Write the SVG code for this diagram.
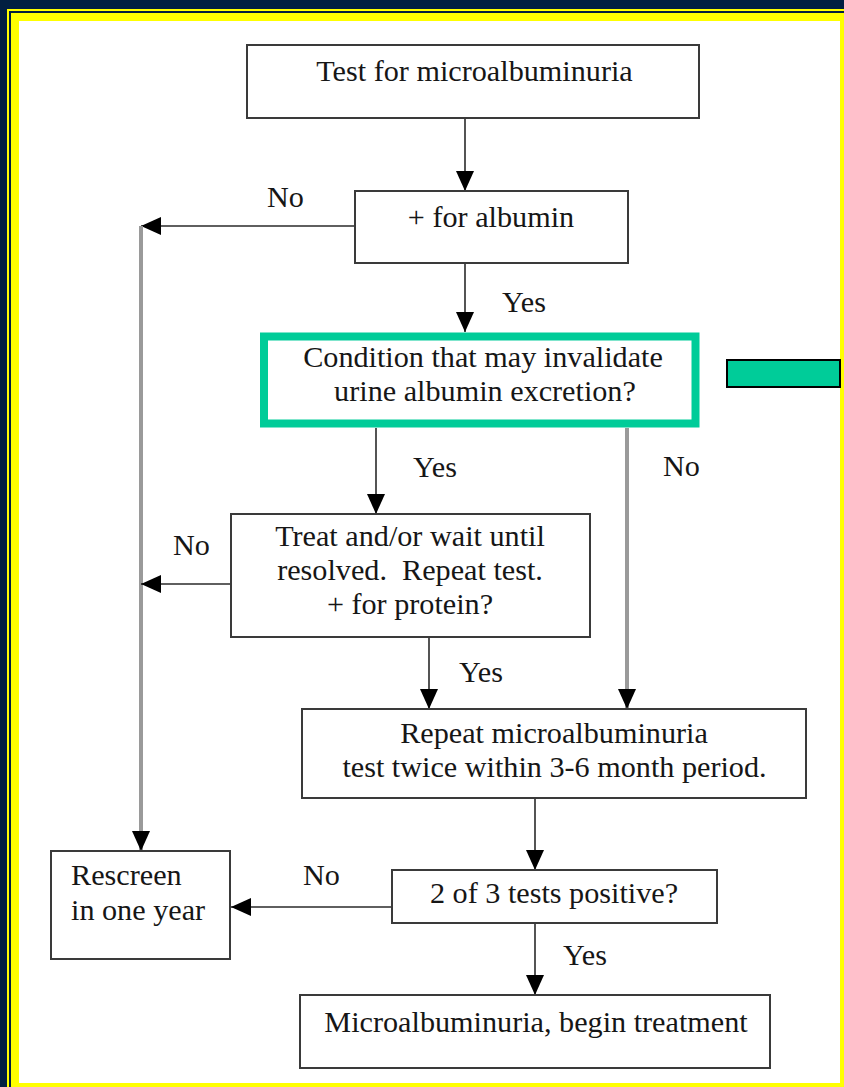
<svg xmlns="http://www.w3.org/2000/svg" width="844" height="1087" viewBox="0 0 844 1087">
<style>
.box{fill:#ffffff;stroke:#3a3a3a;stroke-width:2}
.m{text-anchor:middle}
.c{fill:none;stroke:#2a2a2a;stroke-width:1.6}
.g{fill:none;stroke:#9a9a9a;stroke-width:4}
</style>
<defs>
<marker id="ah" markerUnits="userSpaceOnUse" markerWidth="20" markerHeight="18" refX="20" refY="9" orient="auto">
<path d="M0,0 L20,9 L0,18 Z" fill="#000"/>
</marker>
</defs>
<g id="frame">
<rect x="0" y="0" width="844" height="1087" fill="#011f41"/>
<rect x="7" y="9" width="837" height="1078" fill="#ffff00"/>
<rect x="9" y="11" width="835" height="1076" fill="#011f41"/>
<rect x="11" y="13" width="833" height="1074" fill="#ffff00"/>
<rect x="19" y="21" width="821" height="1062" fill="#ffffff"/>
</g>
<g font-family="Liberation Serif, Tinos, Times New Roman, serif" font-size="30.2" fill="#161616">
<g id="connectors">
<line class="c" x1="465" y1="118" x2="465" y2="191" marker-end="url(#ah)"/>
<line class="c" x1="355" y1="226" x2="141" y2="226" marker-end="url(#ah)"/>
<line class="g" x1="141" y1="226" x2="141" y2="851" marker-end="url(#ah)"/>
<line class="c" x1="465" y1="263" x2="465" y2="332" marker-end="url(#ah)"/>
<line class="c" x1="376" y1="428" x2="376" y2="514" marker-end="url(#ah)"/>
<line class="g" x1="627" y1="428" x2="627" y2="709" marker-end="url(#ah)"/>
<line class="c" x1="231" y1="584" x2="141" y2="584" marker-end="url(#ah)"/>
<line class="c" x1="429" y1="637" x2="429" y2="709" marker-end="url(#ah)"/>
<line class="c" x1="535" y1="798" x2="535" y2="870" marker-end="url(#ah)"/>
<line class="c" x1="392" y1="907" x2="231" y2="907" marker-end="url(#ah)"/>
<line class="c" x1="535" y1="923" x2="535" y2="995" marker-end="url(#ah)"/>
<text x="267" y="207">No</text>
<text x="502" y="312">Yes</text>
<text x="413" y="477">Yes</text>
<text x="663" y="476">No</text>
<text x="173" y="555">No</text>
<text x="459" y="682">Yes</text>
<text x="303" y="885">No</text>
<text x="563" y="965">Yes</text>
</g>
<g id="n1">
<rect class="box" x="247" y="45" width="452" height="73"/>
<text class="m" x="474.5" y="81">Test for microalbuminuria</text>
</g>
<g id="n2">
<rect class="box" x="355" y="191" width="273" height="72"/>
<text class="m" x="491" y="227">+ for albumin</text>
</g>
<g id="n3">
<rect x="264" y="336.5" width="431.5" height="87" fill="#ffffff" stroke="#00cc99" stroke-width="8"/>
<text class="m" x="483" y="367">Condition that may invalidate</text>
<text class="m" x="485" y="401">urine albumin excretion?</text>
</g>
<g id="n4">
<rect class="box" x="231" y="514" width="359" height="123"/>
<text class="m" x="410" y="546">Treat and/or wait until</text>
<text class="m" x="410" y="580" xml:space="preserve">resolved.  Repeat test.</text>
<text class="m" x="410" y="614">+ for protein?</text>
</g>
<g id="n5">
<rect class="box" x="302" y="709" width="504" height="89"/>
<text class="m" x="554" y="743">Repeat microalbuminuria</text>
<text class="m" x="554.5" y="777">test twice within 3-6 month period.</text>
</g>
<g id="n6">
<rect class="box" x="392" y="870" width="325" height="53"/>
<text class="m" x="554" y="903">2 of 3 tests positive?</text>
</g>
<g id="n7">
<rect class="box" x="51" y="851" width="179" height="108"/>
<text x="71" y="885">Rescreen</text>
<text x="71" y="920">in one year</text>
</g>
<g id="n8">
<rect class="box" x="300" y="995" width="470" height="73"/>
<text class="m" x="536" y="1032">Microalbuminuria, begin treatment</text>
</g>
</g>
<g id="bar">
<rect x="727" y="360" width="113" height="27" fill="#00cc99" stroke="#000" stroke-width="2"/>
</g>
</svg>
